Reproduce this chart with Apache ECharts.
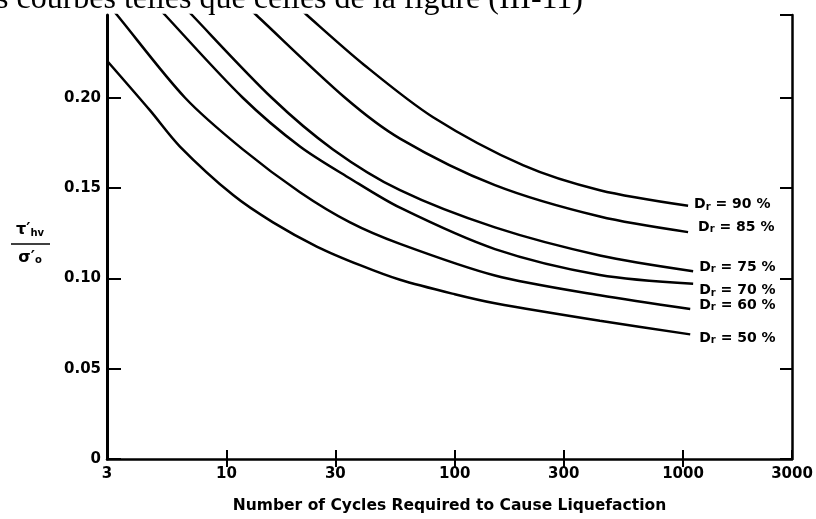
<!DOCTYPE html>
<html>
<head>
<meta charset="utf-8">
<script src="https://cdn.jsdelivr.net/npm/echarts@6/dist/echarts.min.js"></script>
<style>html,body{margin:0;padding:0;background:#fff}#c{width:816px;height:519px}</style>
</head>
<body>
<div id="c"></div>
<script>
const xTicks = [3, 10, 30, 100, 300, 1000, 3000];
const yTicks = [0, 0.05, 0.10, 0.15, 0.20];
const yTickLabels = ['0', '0.05', '0.10', '0.15', '0.20'];
const xTitle = 'Number of Cycles Required to Cause Liquefaction';
const headerText = 's courbes telles que celles de la figure (III-11)';
const curveLabels = ['90 %', '85 %', '75 %', '70 %', '60 %', '50 %'];

const dr90N = [18, 22.5, 40, 80.4, 200, 432, 1052];
const dr90Y = [0.257, 0.2458, 0.2183, 0.1892, 0.1625, 0.1488, 0.1402];
const dr85N = [11, 13.8, 33.1, 57.6, 150, 432, 1052];
const dr85Y = [0.2565, 0.2447, 0.2000, 0.1774, 0.1516, 0.1342, 0.1256];
const dr75N = [6, 7.07, 15.8, 29.3, 57.6, 150, 432, 1107];
const dr75Y = [0.2558, 0.2458, 0.2000, 0.1714, 0.1488, 0.1282, 0.1127, 0.1040];
const dr70N = [4.6, 5.39, 11.8, 21.0, 34.8, 57.6, 150, 432, 1107];
const dr70Y = [0.2558, 0.2458, 0.2000, 0.1730, 0.1553, 0.1391, 0.1162, 0.1019, 0.0970];
const dr60N = [3, 3.32, 6.59, 11.8, 21.0, 34.8, 57.6, 150, 432, 1075];
const dr60Y = [0.2525, 0.2458, 0.2000, 0.1714, 0.1477, 0.1310, 0.1191, 0.1016, 0.0906, 0.0830];
const dr50N = [3, 4.63, 6.26, 10.7, 16, 25, 38.5, 57.6, 100, 150, 432, 1075];
const dr50Y = [0.2205, 0.1930, 0.1730, 0.1461, 0.1310, 0.1175, 0.1073, 0.0992, 0.0912, 0.0862, 0.0765, 0.0690];

const curvesN = [dr90N, dr85N, dr75N, dr70N, dr60N, dr50N];
const curvesY = [dr90Y, dr85Y, dr75Y, dr70Y, dr60Y, dr50Y];

// label style offsets (presentation only)
const labelOffsets = [[2, -1], [6, -5], [2, -4], [2, 7], [5, -4], [5, 4]];

const FONT = 'DejaVu Sans';
const yMax = 0.2458;

const series = curvesN.map((ns, i) => ({
  type: 'line',
  name: 'Dr = ' + curveLabels[i],
  data: ns.map((n, k) => [n, curvesY[i][k]]),
  showSymbol: false,
  smooth: 0.3,
  clip: true,
  lineStyle: { color: '#000', width: 2.5 },
  endLabel: {
    show: true,
    distance: 4,
    offset: labelOffsets[i],
    formatter: () => '{d|D}{r|r}{t| = ' + curveLabels[i] + '}',
    rich: {
      d: { fontFamily: FONT, fontWeight: 'bold', fontSize: 14, color: '#000' },
      r: { fontFamily: FONT, fontWeight: 'bold', fontSize: 10, color: '#000', verticalAlign: 'bottom', padding: [5, 0, 0, 0] },
      t: { fontFamily: FONT, fontWeight: 'bold', fontSize: 14, color: '#000' }
    }
  }
}));

const chart = echarts.init(document.getElementById('c'), null, { renderer: 'canvas' });
chart.setOption({
  backgroundColor: '#fff',
  animation: false,
  grid: { left: 107, right: 24, top: 15, bottom: 48 },
  xAxis: [{
    type: 'log', logBase: 10, min: 3, max: 3000, position: 'bottom',
    name: xTitle, nameLocation: 'middle', nameGap: 39,
    nameTextStyle: { fontFamily: FONT, fontWeight: 'bold', fontSize: 15.5, color: '#000' },
    axisLine: { show: true, onZero: false, lineStyle: { color: '#000', width: 2.5 } },
    axisTick: { show: true, inside: true, length: 9, customValues: xTicks, lineStyle: { color: '#000', width: 2 } },
    minorTick: { show: false },
    axisLabel: { customValues: xTicks, margin: 8, fontFamily: FONT, fontWeight: 'bold', fontSize: 15, color: '#000', formatter: v => String(Math.round(v)) },
    splitLine: { show: false }
  }, {
    type: 'log', logBase: 10, min: 3, max: 3000, position: 'top',
    axisLine: { show: false },
    axisTick: { show: true, inside: true, length: 8, customValues: xTicks.slice(1, -1), lineStyle: { color: '#000', width: 2 } },
    axisLabel: { show: false },
    splitLine: { show: false }
  }],
  yAxis: [{
    type: 'value', min: 0, max: yMax, interval: 0.05, position: 'left',
    axisLine: { show: true, onZero: false, lineStyle: { color: '#000', width: 3 } },
    axisTick: { show: true, inside: true, length: 14, lineStyle: { color: '#000', width: 2 } },
    axisLabel: {
      margin: 6, showMaxLabel: false, fontFamily: FONT, fontWeight: 'bold', fontSize: 15, color: '#000',
      formatter: v => { const k = yTicks.findIndex(t => Math.abs(t - v) < 1e-6); return k >= 0 ? yTickLabels[k] : ''; }
    },
    splitLine: { show: false }
  }, {
    type: 'value', min: 0, max: yMax, interval: 0.05, position: 'right',
    axisLine: { show: true, onZero: false, lineStyle: { color: '#000', width: 2.5 } },
    axisTick: { show: true, inside: true, length: 12, lineStyle: { color: '#000', width: 2 } },
    axisLabel: { show: false },
    splitLine: { show: false }
  }],
  graphic: [
    { type: 'text', left: -4, top: -16, style: { text: headerText, font: '32px "Liberation Serif"', fill: '#000' } },
    { type: 'text', x: 30, y: 230, style: { text: '{a|τ′}{b|hv}', align: 'center', verticalAlign: 'middle',
        rich: { a: { fontFamily: FONT, fontWeight: 'bold', fontSize: 16, fill: '#000' }, b: { fontFamily: FONT, fontWeight: 'bold', fontSize: 10, fill: '#000', padding: [6, 0, 0, 0] } } } },
    { type: 'line', shape: { x1: 11, y1: 244, x2: 50, y2: 244 }, style: { stroke: '#000', lineWidth: 1.5 } },
    { type: 'text', x: 30, y: 258, style: { text: '{a|σ′}{b|o}', align: 'center', verticalAlign: 'middle',
        rich: { a: { fontFamily: FONT, fontWeight: 'bold', fontSize: 16, fill: '#000' }, b: { fontFamily: FONT, fontWeight: 'bold', fontSize: 10, fill: '#000', padding: [5, 0, 0, 0] } } } }
  ],
  series: series
});
</script>
</body>
</html>
